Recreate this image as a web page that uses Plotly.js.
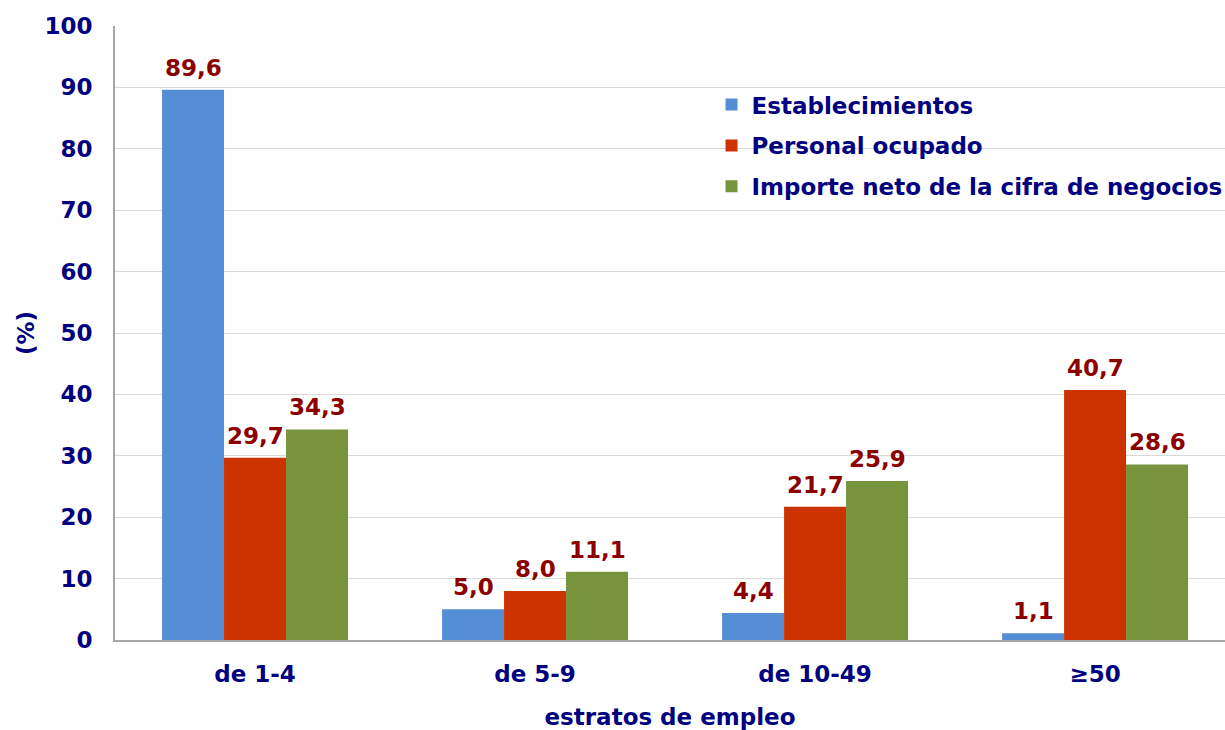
<!DOCTYPE html>
<html><head><meta charset="utf-8">
<script src="https://cdn.plot.ly/plotly-3.0.1.min.js"></script>
<style>html,body{margin:0;padding:0;overflow:hidden;background:#fff}</style>
</head><body>
<div id="chart" style="width:1225px;height:730px"></div>
<script>
const categories = ["de 1-4", "de 5-9", "de 10-49", "≥50"];
const establecimientos = [89.6, 5.0, 4.4, 1.1];
const personal = [29.7, 8.0, 21.7, 40.7];
const importe = [34.3, 11.1, 25.9, 28.6];
const seriesNames = ["Establecimientos", "Personal ocupado", "Importe neto de la cifra de negocios"];
const seriesColors = ["#558ED5", "#CC3300", "#77933C"];
const yTicks = [0, 10, 20, 30, 40, 50, 60, 70, 80, 90, 100];

const FONT = "DejaVu Sans, Verdana, sans-serif";
const NAVY = "#000080";
const FS = 23;
const values = [establecimientos, personal, importe];
const traces = values.map((v, i) => ({
  type: "bar",
  name: seriesNames[i],
  x: categories,
  y: v,
  legendgroup: "g" + i,
  marker: {color: seriesColors[i], line: {width: 0}},
  hoverinfo: "skip"
}));

// data labels: positioned at each bar's value, shifted to the bar's slot in the group
const barPx = 62;
const annotations = [];
values.forEach((v, i) => {
  v.forEach((val, j) => {
    annotations.push({
      x: categories[j], y: val, xref: "x", yref: "y",
      xshift: (i - 1) * barPx, yshift: 7,
      yanchor: "bottom", xanchor: "center",
      text: val.toFixed(1).replace(".", ","),
      showarrow: false,
      font: {family: FONT, size: FS, color: "#8B0000", weight: "bold"}
    });
  });
});

const layout = {
  width: 1225, height: 730,
  margin: {l: 115, r: 0, t: 26, b: 90, autoexpand: false},
  paper_bgcolor: "#fff", plot_bgcolor: "#fff",
  separators: ",.",
  barmode: "group",
  bargap: 0.336,
  bargroupgap: 0,
  font: {family: FONT, size: FS, color: NAVY, weight: "bold"},
  annotations: annotations,
  xaxis: {
    type: "category",
    range: [-0.5, 3.464],
    showline: true, linecolor: "#A6A6A6", linewidth: 2,
    showgrid: false, ticks: "",
    ticklabelstandoff: 12,
    automargin: false,
    tickfont: {family: FONT, size: FS, color: NAVY, weight: "bold"},
    title: {text: "estratos de empleo", standoff: 24, font: {family: FONT, size: FS, color: NAVY, weight: "bold"}}
  },
  yaxis: {
    range: [0, 100],
    tickvals: yTicks,
    showline: true, linecolor: "#A6A6A6", linewidth: 2,
    showgrid: true, gridcolor: "#D9D9D9", gridwidth: 1,
    zeroline: false,
    ticks: "",
    ticklabelstandoff: 16,
    automargin: false,
    tickfont: {family: FONT, size: FS, color: NAVY, weight: "bold"},
    title: {text: "(%)", standoff: 3, font: {family: FONT, size: FS, color: NAVY, weight: "bold"}}
  },
  showlegend: true,
  legend: {
    x: 0.5374, y: 0.907, xanchor: "left", yanchor: "top",
    bgcolor: "rgba(0,0,0,0)",
    traceorder: "grouped",
    tracegroupgap: 8,
    font: {family: FONT, size: FS, color: NAVY, weight: "bold"}
  }
};

Plotly.newPlot("chart", traces, layout, {displayModeBar: false, staticPlot: true});
</script>
</body></html>
